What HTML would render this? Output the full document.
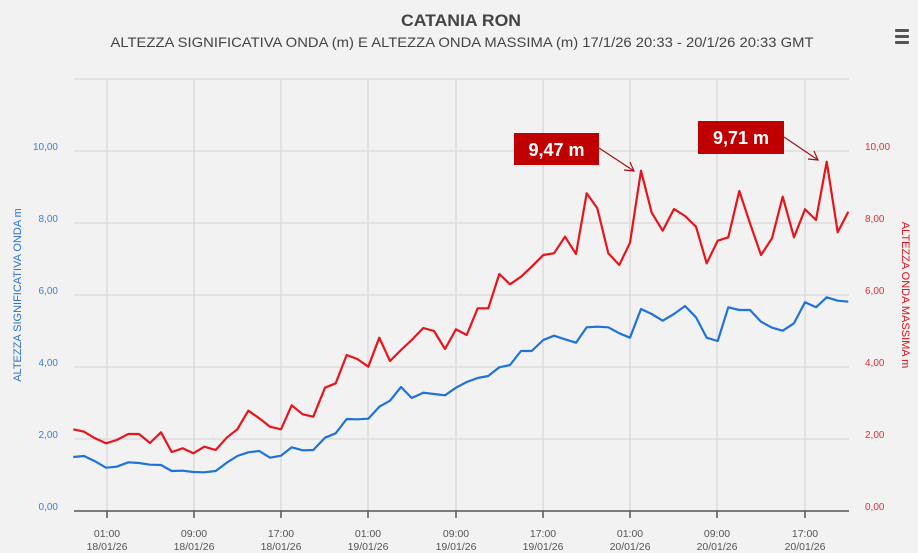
<!DOCTYPE html>
<html><head><meta charset="utf-8"><style>
html,body{margin:0;padding:0;background:#f2f2f2;}
svg{display:block;font-family:"Liberation Sans",sans-serif;}
</style></head><body>
<svg width="918" height="553" viewBox="0 0 918 553" xmlns="http://www.w3.org/2000/svg">
<rect width="918" height="553" fill="#f2f2f2"/>
<text x="461" y="26" text-anchor="middle" font-size="17" font-weight="bold" fill="#444" textLength="120" lengthAdjust="spacingAndGlyphs">CATANIA RON</text>
<text x="462" y="47" text-anchor="middle" font-size="14" fill="#444" textLength="703" lengthAdjust="spacingAndGlyphs">ALTEZZA SIGNIFICATIVA ONDA (m) E ALTEZZA ONDA MASSIMA (m)    17/1/26 20:33 - 20/1/26 20:33 GMT</text>
<g fill="#555"><rect x="895" y="29" width="14" height="3" rx="1"/><rect x="895" y="35" width="14" height="3" rx="1"/><rect x="895" y="41" width="14" height="3" rx="1"/></g>
<g stroke="#d8d8d8" stroke-width="1.3">
<line x1="74" x2="849" y1="79" y2="79"/><line x1="74" x2="849" y1="151" y2="151"/><line x1="74" x2="849" y1="223" y2="223"/><line x1="74" x2="849" y1="295" y2="295"/><line x1="74" x2="849" y1="367" y2="367"/><line x1="74" x2="849" y1="439" y2="439"/>
<line x1="107" x2="107" y1="79" y2="511"/><line x1="194" x2="194" y1="79" y2="511"/><line x1="281" x2="281" y1="79" y2="511"/><line x1="368" x2="368" y1="79" y2="511"/><line x1="456" x2="456" y1="79" y2="511"/><line x1="543" x2="543" y1="79" y2="511"/><line x1="630" x2="630" y1="79" y2="511"/><line x1="717" x2="717" y1="79" y2="511"/><line x1="805" x2="805" y1="79" y2="511"/>
</g>
<g stroke="#555" stroke-width="1.5">
<line x1="74" x2="849" y1="511" y2="511"/>
<line x1="107" x2="107" y1="511" y2="518"/><line x1="194" x2="194" y1="511" y2="518"/><line x1="281" x2="281" y1="511" y2="518"/><line x1="368" x2="368" y1="511" y2="518"/><line x1="456" x2="456" y1="511" y2="518"/><line x1="543" x2="543" y1="511" y2="518"/><line x1="630" x2="630" y1="511" y2="518"/><line x1="717" x2="717" y1="511" y2="518"/><line x1="805" x2="805" y1="511" y2="518"/>
</g>
<g font-size="10.5" fill="#555" text-anchor="middle">
<text x="107" y="537">01:00</text><text x="107" y="550">18/01/26</text>
<text x="194" y="537">09:00</text><text x="194" y="550">18/01/26</text>
<text x="281" y="537">17:00</text><text x="281" y="550">18/01/26</text>
<text x="368" y="537">01:00</text><text x="368" y="550">19/01/26</text>
<text x="456" y="537">09:00</text><text x="456" y="550">19/01/26</text>
<text x="543" y="537">17:00</text><text x="543" y="550">19/01/26</text>
<text x="630" y="537">01:00</text><text x="630" y="550">20/01/26</text>
<text x="717" y="537">09:00</text><text x="717" y="550">20/01/26</text>
<text x="805" y="537">17:00</text><text x="805" y="550">20/01/26</text>
</g>
<g font-size="10" fill="#3a7fd5" text-anchor="end">
<text x="58" y="150">10,00</text><text x="58" y="222">8,00</text><text x="58" y="294">6,00</text><text x="58" y="366">4,00</text><text x="58" y="438">2,00</text><text x="58" y="510">0,00</text>
</g>
<g font-size="10" fill="#e0303a" text-anchor="start">
<text x="865" y="150">10,00</text><text x="865" y="222">8,00</text><text x="865" y="294">6,00</text><text x="865" y="366">4,00</text><text x="865" y="438">2,00</text><text x="865" y="510">0,00</text>
</g>
<text transform="translate(21,295) rotate(-90)" text-anchor="middle" font-size="11" fill="#2a72d0">ALTEZZA SIGNIFICATIVA ONDA m</text>
<text transform="translate(902,295) rotate(90)" text-anchor="middle" font-size="11" fill="#e0101a">ALTEZZA ONDA MASSIMA m</text>
<polyline fill="none" stroke="#1f73d8" stroke-width="2.2" stroke-linejoin="round" points="73.3,457 84,456 95,461.3 106,467.7 116.7,466.7 128.3,462.3 139,463 150,464.7 161,465 171.7,471 182.7,470.7 193.3,472 204.3,472.3 215.7,471 226.7,462.7 237.3,456 248.3,452.3 259.3,451 270,457.7 281,455.7 291.7,447.3 302.7,450.3 313.3,450 325,437.7 335.7,433.3 346.7,419 357.3,419.3 368.3,418.7 379.3,406.7 390,400.7 401,387 411.7,398 423.3,392.7 434,394 445,395.3 456,387.7 466.7,382 477.7,378 488.3,376 499.3,367.3 510,365 521,351 531.7,351 543.3,340 554,335.7 565,339.3 576,342.7 586.7,327.3 597.3,326.7 608.3,327.3 619.3,333.3 630,337.7 641,309 651.7,314 662.7,320.7 674,314 685,306 696,317.3 706.7,337.7 717.7,341 728.3,307.3 739.3,310 750,310 761,321.7 772,327.7 782.7,330.7 794,323.3 805,302.3 816,307.3 826.7,297.3 837.7,300.7 848.3,301.7"/>
<polyline fill="none" stroke="#e8141c" stroke-width="2.2" stroke-linejoin="round" points="73.3,429.3 84,431.7 95,438.3 106,443.3 116.7,440 128.3,434 139,434 150,443 161,432.3 171.7,452 182.7,448.3 193.3,453.3 204.3,446.7 215.7,450 226.7,437.7 237.3,429.3 248.3,410.7 259.3,418.3 270,426.7 281,429.3 291.7,405.3 302.7,414.3 313.3,416.7 325,387.7 335.7,383.3 346.7,355 357.3,359 368.3,366.7 379.3,337.7 390,361 401,350 411.7,340 423.3,328 434,331 445,349 456,329.3 466.7,335 477.7,308.3 488.3,308.3 499.3,274 510,284.3 521,276.7 531.7,266.7 543.3,255 554,253.3 565,236.7 576,254 586.7,193.3 597.3,208.3 608.3,253.3 619.3,265 630,242.7 641,170.7 651.7,212.7 662.7,230.7 674,209 685,216 696,226.7 706.7,263.3 717.7,240.7 728.3,237.3 739.3,191 750,223.3 761,255 772,238.3 782.7,196.7 794,237.3 805,209.3 816,220 826.7,161.7 837.7,232.3 848.3,211.7"/>
<g stroke="#a01018" stroke-width="1.2" fill="none">
<line x1="599" y1="148" x2="634" y2="171"/><polyline points="624,170 634,171 630,162"/>
<line x1="784" y1="137" x2="818" y2="160"/><polyline points="808,159 818,160 814,151"/>
</g>
<rect x="514" y="133" width="85" height="32" fill="#c00000"/>
<text x="556.5" y="156" text-anchor="middle" font-size="18" font-weight="bold" fill="#fff">9,47 m</text>
<rect x="698" y="121" width="86" height="33" fill="#c00000"/>
<text x="741" y="144" text-anchor="middle" font-size="18" font-weight="bold" fill="#fff">9,71 m</text>
</svg>
</body></html>
